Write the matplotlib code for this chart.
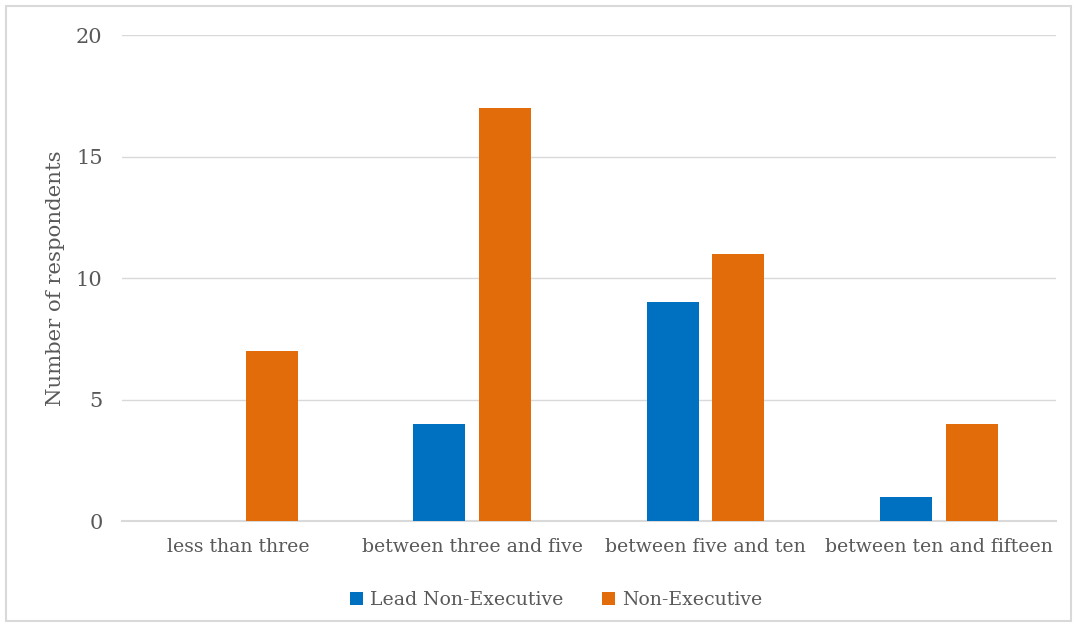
import numpy as np
import matplotlib.pyplot as plt
from matplotlib.patches import Rectangle

# Data
categories = ["less than three", "between three and five", "between five and ten", "between ten and fifteen"]
lead_non_exec = [0, 4, 9, 1]
non_exec = [7, 17, 11, 4]

plt.rcParams['font.family'] = ['DejaVu Serif']
text_color = "#595959"

fig = plt.figure(figsize=(10.75, 6.27), dpi=100)
ax = fig.add_axes([0.1135, 0.169, 0.8685, 0.775])

x = np.arange(len(categories))
width = 0.223
offset = 0.141
ax.bar(x - offset, lead_non_exec, width, color="#0070C0", label="Lead Non-Executive", zorder=3)
ax.bar(x + offset, non_exec, width, color="#E36C0A", label="Non-Executive", zorder=3)

ax.set_xlim(-0.5, len(categories) - 0.5)
ax.set_ylim(0, 20)
ax.set_yticks([0, 5, 10, 15, 20])
ax.set_xticks(x)
ax.set_xticklabels(categories, fontsize=13.6, color=text_color)
ax.tick_params(axis="y", labelsize=15, colors=text_color, length=0, pad=14)
ax.tick_params(axis="x", length=0, pad=12)
ax.yaxis.grid(True, color="#D9D9D9", linewidth=1, zorder=0)
for s in ["top", "left", "right"]:
    ax.spines[s].set_visible(False)
ax.spines["bottom"].set_color("#D9D9D9")
ax.spines["bottom"].set_linewidth(1.5)
ax.set_ylabel("Number of respondents", fontsize=15.3, color=text_color, labelpad=8)

ax.legend(loc="upper center", bbox_to_anchor=(0.465, -0.11), ncol=2, frameon=False,
          fontsize=13.6, labelcolor=text_color, handlelength=0.7, handleheight=0.7,
          columnspacing=2.0, handletextpad=0.4)

# light border around the chart area
fig.patches.append(Rectangle((0.006, 0.01), 0.99, 0.98, transform=fig.transFigure,
                             fill=False, edgecolor="#D9D9D9", linewidth=1.5))

fig.savefig("out.png", dpi=100)
